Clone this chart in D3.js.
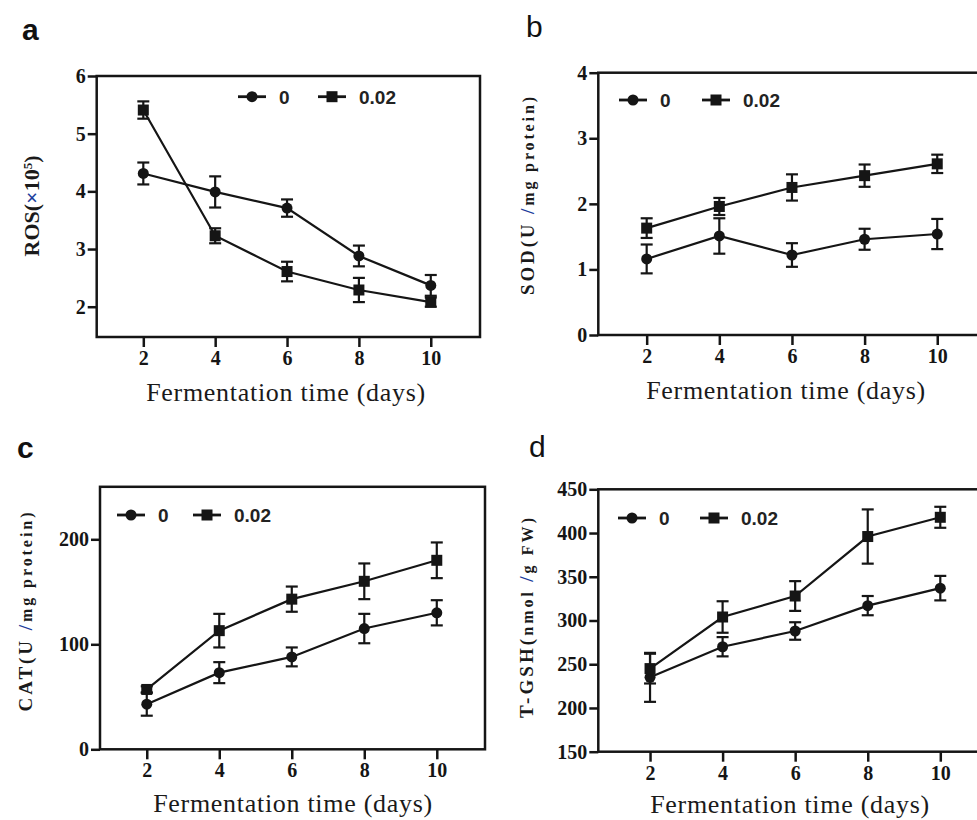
<!DOCTYPE html>
<html>
<head>
<meta charset="utf-8">
<script src="https://cdn.jsdelivr.net/npm/d3@7"></script>
<style>
  body { margin: 0; background: #fff; }
  svg { display: block; }
  .axis text { font-family: "Liberation Serif", "Times New Roman", serif; font-weight: bold; font-size: 20px; fill: #151515; }
  .axis line { stroke: #151515; stroke-width: 2.5; }
  .frame { fill: none; stroke: #151515; stroke-width: 2.5; }
  .xtitle { font-family: "Liberation Serif", "Times New Roman", serif; font-size: 26px; letter-spacing: 0.7px; fill: #1a1a1a; }
  .ytitle { font-family: "Liberation Serif", "Times New Roman", serif; font-size: 19px; font-weight: bold; fill: #1a1a1a; }
  .legend text { font-family: "Liberation Sans", Arial, sans-serif; font-size: 19px; font-weight: bold; fill: #222; }
  .plabel { font-family: "Liberation Sans", Arial, sans-serif; font-size: 30px; fill: #111; }
</style>
</head>
<body>
<svg width="977" height="820"></svg>
<script>
  // fermentation time (days)
  const days = [2, 4, 6, 8, 10];
  const seriesNames = ['0', '0.02'];

  // ROS (x10^5)
  const rosCtrl = [4.31, 3.99, 3.71, 2.88, 2.37];
  const rosCtrlErr = [0.19, 0.27, 0.15, 0.18, 0.18];
  const rosTrt = [5.41, 3.23, 2.61, 2.29, 2.08];
  const rosTrtErr = [0.15, 0.13, 0.17, 0.21, 0.08];

  // SOD (U/mg protein)
  const sodCtrl = [1.16, 1.51, 1.22, 1.46, 1.54];
  const sodCtrlErr = [0.22, 0.27, 0.18, 0.16, 0.23];
  const sodTrt = [1.63, 1.96, 2.25, 2.43, 2.61];
  const sodTrtErr = [0.15, 0.13, 0.20, 0.17, 0.14];

  // CAT (U/mg protein)
  const catCtrl = [43, 73, 88, 115, 130];
  const catCtrlErr = [11, 10, 9, 14, 12];
  const catTrt = [57, 113, 143, 160, 180];
  const catTrtErr = [3, 16, 12, 17, 17];

  // T-GSH (nmol/g FW)
  const gshCtrl = [235, 270, 288, 317, 337];
  const gshCtrlErr = [28, 11, 10, 11, 14];
  const gshTrt = [245, 304, 328, 396, 418];
  const gshTrtErr = [17, 18, 17, 31, 12];

  const rosTicks = [2, 3, 4, 5, 6];
  const sodTicks = [0, 1, 2, 3, 4];
  const catTicks = [0, 100, 200];
  const gshTicks = [150, 200, 250, 300, 350, 400, 450];

  const svg = d3.select('svg');
  const ink = '#151515';
  const fmt = d3.format('d');

  const panels = [
    { id: 'a', bold: true, lab: [22, 40],
      box: { l: 96.7, r: 480, t: 76, b: 337 }, xd: [0.703, 11.37], yd: [1.475, 6], yticks: rosTicks,
      ctrl: rosCtrl, ctrlErr: rosCtrlErr, trt: rosTrt, trtErr: rosTrtErr,
      ytitle: { x: 31, y: 206, size: 22, parts: [['ROS(', null], ['×', 'blue'], ['10', null], ['5', 'sup'], [')', null]] },
      xtitle: { x: 286, y: 401 }, legend: { x: 238, y: 96.7, gap: 80 } },
    { id: 'b', bold: false, lab: [526, 37],
      box: { l: 598.3, r: 987, t: 72.7, b: 335 }, xd: [0.668, 11.37], yd: [0, 4], yticks: sodTicks,
      ctrl: sodCtrl, ctrlErr: sodCtrlErr, trt: sodTrt, trtErr: sodTrtErr,
      ytitle: { x: 527, y: 196, len: 198, parts: [['SOD(U ', null], ['/', 'blue'], ['mg protein)', 'small']] },
      xtitle: { x: 786, y: 399 }, legend: { x: 619, y: 100, gap: 83 } },
    { id: 'c', bold: true, lab: [17, 458],
      box: { l: 100, r: 485, t: 486.8, b: 749.3 }, xd: [0.71, 11.33], yd: [0, 250], yticks: catTicks,
      ctrl: catCtrl, ctrlErr: catCtrlErr, trt: catTrt, trtErr: catTrtErr,
      ytitle: { x: 25, y: 612, len: 199, parts: [['CAT(U ', null], ['/', 'blue'], ['mg protein)', 'small']] },
      xtitle: { x: 293, y: 812 }, legend: { x: 117, y: 515, gap: 76 } },
    { id: 'd', bold: false, lab: [529, 457],
      box: { l: 598.3, r: 990, t: 489.3, b: 751.7 }, xd: [0.574, 11.37], yd: [150, 450], yticks: gshTicks,
      ctrl: gshCtrl, ctrlErr: gshCtrlErr, trt: gshTrt, trtErr: gshTrtErr,
      ytitle: { x: 526, y: 618, len: 200, parts: [['T-GSH(', null], ['nmol ', 'small'], ['/', 'blue'], ['g FW)', 'small']] },
      xtitle: { x: 790, y: 813 }, legend: { x: 618, y: 518, gap: 82 } }
  ];

  const drawMarker = (g, kind, cx, cy) => {
    if (kind === 0) {
      g.append('circle').attr('cx', cx).attr('cy', cy).attr('r', 5.5).attr('fill', ink);
    } else {
      g.append('rect').attr('x', cx - 5.5).attr('y', cy - 5.5)
        .attr('width', 11).attr('height', 11).attr('fill', ink);
    }
  };

  panels.forEach(p => {
    const g = svg.append('g');
    const x = d3.scaleLinear().domain(p.xd).range([p.box.l, p.box.r]);
    const y = d3.scaleLinear().domain(p.yd).range([p.box.b, p.box.t]);

    // panel letter
    g.append('text').attr('class', 'plabel')
      .attr('x', p.lab[0]).attr('y', p.lab[1])
      .attr('font-weight', p.bold ? 'bold' : 'normal')
      .text(p.id);

    // axes (ticks only, frame drawn separately)
    g.append('g').attr('class', 'axis')
      .attr('transform', `translate(${p.box.l},0)`)
      .call(d3.axisLeft(y).tickValues(p.yticks).tickFormat(fmt).tickSize(9).tickPadding(2).tickSizeOuter(0))
      .call(a => a.select('.domain').remove());
    g.append('g').attr('class', 'axis')
      .attr('transform', `translate(0,${p.box.b})`)
      .call(d3.axisBottom(x).tickValues(days).tickFormat(fmt).tickSize(10).tickPadding(4).tickSizeOuter(0))
      .call(a => a.select('.domain').remove());

    g.append('rect').attr('class', 'frame')
      .attr('x', x.range()[0]).attr('y', y.range()[1])
      .attr('width', x.range()[1] - x.range()[0])
      .attr('height', y.range()[0] - y.range()[1]);

    // series
    const sets = [
      { vals: p.ctrl, err: p.ctrlErr },
      { vals: p.trt, err: p.trtErr }
    ];
    const line = d3.line().x(d => x(d[0])).y(d => y(d[1]));

    sets.forEach((s, k) => {
      const pts = days.map((d, i) => [d, s.vals[i], s.err[i]]);
      g.append('path').datum(pts)
        .attr('d', line).attr('fill', 'none')
        .attr('stroke', ink).attr('stroke-width', 2.2);

      const eb = g.append('g').attr('stroke', ink).attr('stroke-width', 2.2);
      pts.forEach(([d, v, e]) => {
        const cx = x(d), y1 = y(v + e), y2 = y(v - e);
        eb.append('line').attr('x1', cx).attr('x2', cx).attr('y1', y1).attr('y2', y2);
        eb.append('line').attr('x1', cx - 6).attr('x2', cx + 6).attr('y1', y1).attr('y2', y1);
        eb.append('line').attr('x1', cx - 6).attr('x2', cx + 6).attr('y1', y2).attr('y2', y2);
      });
      pts.forEach(([d, v]) => drawMarker(g, k, x(d), y(v)));
    });

    // legend
    const lg = g.append('g').attr('class', 'legend');
    seriesNames.forEach((name, k) => {
      const lx = p.legend.x + k * p.legend.gap;
      lg.append('line').attr('x1', lx).attr('x2', lx + 28)
        .attr('y1', p.legend.y).attr('y2', p.legend.y)
        .attr('stroke', ink).attr('stroke-width', 2.8);
      drawMarker(lg, k, lx + 14, p.legend.y);
      lg.append('text').attr('x', lx + 41).attr('y', p.legend.y)
        .attr('dy', '0.36em').text(name);
    });

    // y title
    const yt = g.append('text').attr('class', 'ytitle')
      .attr('transform', `translate(${p.ytitle.x},${p.ytitle.y}) rotate(-90)`)
      .attr('text-anchor', 'middle').attr('dy', '0.35em');
    if (p.ytitle.size) yt.style('font-size', p.ytitle.size + 'px');
    if (p.ytitle.len) yt.attr('textLength', p.ytitle.len).attr('lengthAdjust', 'spacing');
    p.ytitle.parts.forEach(([t, st]) => {
      const ts = yt.append('tspan').text(t);
      if (st === 'blue') ts.attr('fill', '#1c3d9c');
      if (st === 'small') ts.attr('font-size', '16px');
      if (st === 'sup') ts.attr('font-size', '13px').attr('baseline-shift', 'super');
    });

    // x title
    g.append('text').attr('class', 'xtitle')
      .attr('x', p.xtitle.x).attr('y', p.xtitle.y)
      .attr('text-anchor', 'middle')
      .text('Fermentation time (days)');
  });
</script>
</body>
</html>
